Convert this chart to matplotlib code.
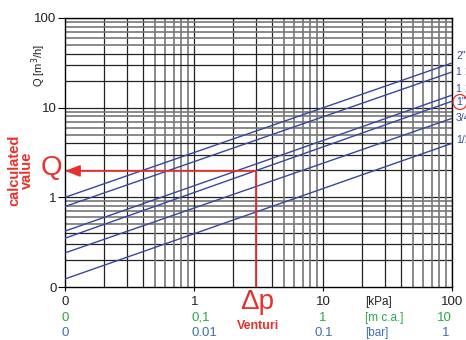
import matplotlib
matplotlib.use("Agg")
import matplotlib.pyplot as plt
from matplotlib.patches import Ellipse
from matplotlib import font_manager

plt.rcParams['font.family'] = ['Liberation Sans', 'DejaVu Sans']

# Valve sizes and flow at the two ends of the pressure-drop range
sizes = ['2"', '1 1/2"', '1 1/4"', '1"', '3/4"', '1/2"']
dp_range = [0.1, 100]                      # kPa
q_low = [1.0, 0.79, 0.42, 0.35, 0.24, 0.123]   # m3/h at 0.1 kPa
q_high = [31.5, 25.0, 13.8, 11.8, 7.6, 4.0]    # m3/h at 100 kPa
label_y = [56, 72, 89, 102, 118, 140]          # label heights, figure pixels

# Example reading
dp_venturi = 3.0     # kPa
q_calc = 1.97        # m3/h

x_ticks = [0.1, 1, 10, 100]
kpa_labels = ['0', '1', '10', '100']
mca_labels = ['0', '0,1', '1', '10']
bar_labels = ['0', '0.01', '0.1', '1']

installed = {f.name for f in font_manager.fontManager.ttflist}
narrow = ['Liberation Sans Narrow', 'Liberation Sans'] if 'Liberation Sans Narrow' in installed \
    else ['Liberation Sans']

W, H = 466, 340
fig = plt.figure(figsize=(W / 100, H / 100), dpi=100)
ax = fig.add_axes([65 / W, 1 - 287 / H, (452 - 65) / W, (287 - 18) / H])
ax.set_xscale('log')
ax.set_yscale('log')
ax.set_xlim(0.1, 100)
ax.set_ylim(0.1, 100)

# grid
for dec in [0.1, 1, 10]:
    for m in range(2, 10):
        v = dec * m
        col = '#222222' if m <= 4 else '#777777'
        lw = 0.9 if m <= 4 else 1.2
        ax.axvline(v, color=col, lw=lw, zorder=1)
        ax.axhline(v, color=col, lw=lw, zorder=1)
    ax.axvline(dec * 10, color='#222222', lw=0.9, zorder=1)
    ax.axhline(dec * 10, color='#222222', lw=0.9, zorder=1)

# flow lines
blue = '#3548a0'
for ql, qh in zip(q_low, q_high):
    ax.plot(dp_range, [ql, qh], color=blue, lw=1.0, zorder=3)

# example reading
red = '#e8302c'
ax.plot([dp_venturi, dp_venturi], [0.1, q_calc], color=red, lw=1.3, zorder=4,
        solid_capstyle='butt')
ax.annotate('', xy=(0.1, q_calc), xytext=(dp_venturi, q_calc),
            arrowprops=dict(arrowstyle='-|>,head_length=0.9,head_width=0.35',
                            color=red, lw=1.3, shrinkA=0, shrinkB=0),
            zorder=5, annotation_clip=False)

for s in ax.spines.values():
    s.set_color('black')
    s.set_linewidth(1.0)

ax.set_yticks(x_ticks)
ax.set_yticklabels(['0', '1', '10', '100'], fontsize=9.5, color='#222222')
ax.yaxis.set_minor_locator(matplotlib.ticker.NullLocator())
ax.tick_params(axis='y', length=5, width=0.8, pad=1)
ax.set_xticks(x_ticks)
ax.set_xticklabels([])
ax.xaxis.set_minor_locator(matplotlib.ticker.NullLocator())
ax.tick_params(axis='x', length=3, width=0.8)


def px(x, y):
    return x / W, 1 - y / H


# x scale rows
green = '#2aa84a'
sblue = '#3f6fae'
for x, t in zip([65, 195, 323, 452], kpa_labels):
    fig.text(*px(x, 302), t, ha='center', va='center', fontsize=9.5, color='#222222')
for x, t, ha in zip([65, 192, 323, 437], mca_labels, ['center', 'left', 'center', 'left']):
    fig.text(*px(x, 318), t, ha=ha, va='center', fontsize=9.5, color=green)
for x, t, ha in zip([65, 191, 324, 446], bar_labels, ['center', 'left', 'center', 'center']):
    fig.text(*px(x, 333), t, ha=ha, va='center', fontsize=9.5, color=sblue)
fig.text(*px(365, 302), '[kPa]', ha='left', va='center', fontsize=8.5, color='#222222')
fig.text(*px(365, 318), '[m c.a.]', ha='left', va='center', fontsize=8.5, color=green)
fig.text(*px(365, 333), '[bar]', ha='left', va='center', fontsize=8.5, color=sblue)

# Δp and Q annotations
fig.text(*px(257, 302), 'Δp', ha='center', va='center', fontsize=20, color=red)
fig.text(*px(258, 326), 'Venturi', ha='center', va='center', fontsize=9,
         color=red, fontweight='bold', family=narrow)
fig.text(*px(51, 168), 'Q', ha='center', va='center', fontsize=20, color=red)
fig.text(*px(21, 170), 'calculated\nvalue', ha='center', va='center', fontsize=10.5,
         color=red, fontweight='bold', rotation=90, linespacing=0.85, family=narrow)

# y axis title
fig.text(*px(39, 65), 'Q [m$^3$/h]', ha='center', va='center', fontsize=8,
         color='#222222', rotation=90)

# size labels, running off the right edge
for t, y in zip(sizes, label_y):
    fig.text(*px(456, y), t, ha='left', va='center', fontsize=7.5, color=blue)
fig.patches.append(Ellipse(px(460, 102), 14 / W, 15 / H, transform=fig.transFigure,
                           fill=False, edgecolor=red, lw=0.9))

fig.savefig('out.png', dpi=100)
